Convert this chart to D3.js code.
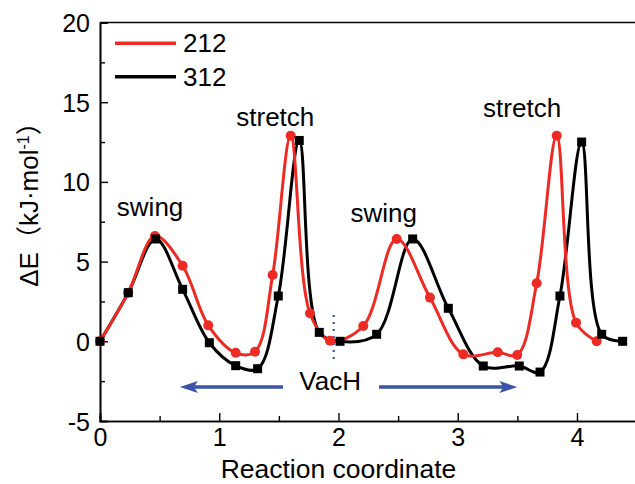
<!DOCTYPE html>
<meta charset="utf-8">
<style>
  body { margin: 0; background: #fff; }
  text { font-family: "Liberation Sans", Arial, "Noto Sans CJK SC", sans-serif; fill: #000; }
</style>
<body>
<script src="https://d3js.org/d3.v7.min.js"></script>
<div id="chart"></div>
<script>

// reaction coordinate / energy for the two configurations
var x212 = [0, 0.237, 0.461, 0.693, 0.908, 1.138, 1.300, 1.448, 1.599, 1.761, 1.929,
            2.208, 2.488, 2.767, 3.047, 3.335, 3.499, 3.662, 3.830, 3.992, 4.165];
var e212 = [0, 3.05, 6.6, 4.74, 1.0, -0.72, -0.65, 4.16, 12.9, 1.76, 0.03,
            0.96, 6.42, 2.74, -0.82, -0.69, -0.86, 3.64, 12.9, 1.17, 0];
var x312 = [0, 0.237, 0.467, 0.693, 0.917, 1.138, 1.322, 1.495, 1.671, 1.839, 2.013,
            2.320, 2.622, 2.921, 3.214, 3.516, 3.690, 3.857, 4.039, 4.207, 4.383];
var e312 = [0, 3.05, 6.42, 3.26, -0.09, -1.53, -1.72, 2.84, 12.6, 0.56, 0,
            0.44, 6.42, 2.07, -1.55, -1.55, -1.93, 2.84, 12.5, 0.44, 0];

var xTicks = [0, 1, 2, 3, 4];
var yTicks = [-5, 0, 5, 10, 15, 20];

// annotations: text, x, y (data units)
var notes = [["swing", 0.42, 7.86], ["stretch", 1.47, 13.5],
             ["swing", 2.38, 7.5], ["stretch", 3.54, 14.07], ["VacH", 1.93, -3.05]];

var margin = {top: 22.5, right: 0, bottom: 63, left: 100},
    width = 536.6,
    height = 398.5;

var x = d3.scaleLinear().domain([0, 4.5]).range([0, width]);
var y = d3.scaleLinear().domain([-5, 20]).range([height, 0]);

var svg = d3.select("#chart").append("svg")
    .attr("width", 635)
    .attr("height", 484)
  .append("g")
    .attr("transform", "translate(" + margin.left + "," + margin.top + ")");

// frame top line
svg.append("line")
    .attr("x1", 0).attr("x2", width)
    .attr("y1", 0).attr("y2", 0)
    .style("stroke", "#000").style("stroke-width", 1.6);

// plain hyphen for negatives, like the original
var fmt = function(d) { return String(d); };

// axes, ticks pointing inward
var xAxis = svg.append("g")
    .attr("transform", "translate(0," + height + ")")
    .call(d3.axisBottom(x).tickValues(xTicks).tickSize(-8).tickPadding(7).tickFormat(fmt));
svg.append("g")
    .attr("transform", "translate(0," + height + ")")
    .call(d3.axisBottom(x).tickValues([0.5, 1.5, 2.5, 3.5]).tickSize(-5).tickFormat(""));
var yAxis = svg.append("g")
    .call(d3.axisLeft(y).tickValues(yTicks).tickSize(-8).tickPadding(10).tickFormat(fmt));
svg.append("g")
    .call(d3.axisLeft(y).tickValues([-2.5, 2.5, 7.5, 12.5, 17.5]).tickSize(-5).tickFormat(""));

svg.selectAll(".domain").style("stroke", "#000").style("stroke-width", 1.6);
svg.selectAll(".tick line").style("stroke", "#000").style("stroke-width", 1.4);
svg.selectAll(".tick text").style("font-size", "25px")
    .style("font-family", "'Liberation Sans', Arial, sans-serif");
yAxis.selectAll(".tick text").attr("dy", "0.36em");
xAxis.selectAll(".tick text").attr("dy", "0.71em");

// axis titles
svg.append("text")
    .attr("text-anchor", "middle")
    .attr("x", x(2.0))
    .attr("y", height + 57)
    .style("font-size", "26.5px")
    .text("Reaction coordinate");

var ylab = svg.append("text")
    .attr("text-anchor", "middle")
    .attr("transform", "translate(" + (-62) + "," + (198 - margin.top) + ") rotate(-90)")
    .style("font-size", "26px");
ylab.append("tspan").text("ΔE（kJ·mol");
ylab.append("tspan").attr("dy", -9).style("font-size", "16px").text("-1");
ylab.append("tspan").attr("dy", 9).text("）");

// VacH arrows and dotted line
var blue = "#3a55a6";
svg.append("line")
    .attr("x1", x(1.96)).attr("x2", x(1.96))
    .attr("y1", y(1.65)).attr("y2", y(-1.4))
    .style("stroke", blue).style("stroke-width", 2.2)
    .style("stroke-dasharray", "2,5");

var arrows = [[1.535, 0.67], [2.34, 3.50]];
arrows.forEach(function(a) {
  var x0 = x(a[0]), x1 = x(a[1]), yy = y(-2.87);
  var dir = x1 > x0 ? 1 : -1;
  svg.append("line")
      .attr("x1", x0).attr("x2", x1 - dir * 12)
      .attr("y1", yy).attr("y2", yy)
      .style("stroke", blue).style("stroke-width", 3.5);
  svg.append("path")
      .attr("d", "M" + x1 + "," + yy + "L" + (x1 - dir * 18) + "," + (yy - 6) +
                 "L" + (x1 - dir * 14) + "," + yy + "L" + (x1 - dir * 18) + "," + (yy + 6) + "Z")
      .style("fill", blue);
});

// curves
var line = d3.line()
    .x(function(d) { return x(d[0]); })
    .y(function(d) { return y(d[1]); })
    .curve(d3.curveCatmullRom.alpha(0.5));

var d212 = x212.map(function(v, i) { return [v, e212[i]]; });
var d312 = x312.map(function(v, i) { return [v, e312[i]]; });

svg.append("path").datum(d312)
    .attr("d", line)
    .style("fill", "none").style("stroke", "#000").style("stroke-width", 3);
svg.append("path").datum(d212)
    .attr("d", line)
    .style("fill", "none").style("stroke", "#ee2a24").style("stroke-width", 3);

svg.selectAll(".c212").data(d212).enter().append("circle")
    .attr("cx", function(d) { return x(d[0]); })
    .attr("cy", function(d) { return y(d[1]); })
    .attr("r", 5)
    .style("fill", "#ee2a24");
svg.selectAll(".s312").data(d312).enter().append("rect")
    .attr("x", function(d) { return x(d[0]) - 4.5; })
    .attr("y", function(d) { return y(d[1]) - 4.5; })
    .attr("width", 9).attr("height", 9)
    .style("fill", "#000");

// annotations
svg.selectAll(".note").data(notes).enter().append("text")
    .attr("text-anchor", "middle")
    .attr("x", function(d) { return x(d[1]); })
    .attr("y", function(d) { return y(d[2]); })
    .style("font-size", "26px")
    .text(function(d) { return d[0]; });

// legend
var legend = [["212", "#ee2a24"], ["312", "#000"]];
var lg = svg.selectAll(".legend").data(legend).enter().append("g")
    .attr("transform", function(d, i) { return "translate(15," + (20.8 + i * 33.4) + ")"; });
lg.append("line")
    .attr("x1", 0).attr("x2", 61)
    .style("stroke", function(d) { return d[1]; })
    .style("stroke-width", 3.5);
lg.append("text")
    .attr("x", 68).attr("y", 9)
    .style("font-size", "26px")
    .text(function(d) { return d[0]; });

</script>
</body>
